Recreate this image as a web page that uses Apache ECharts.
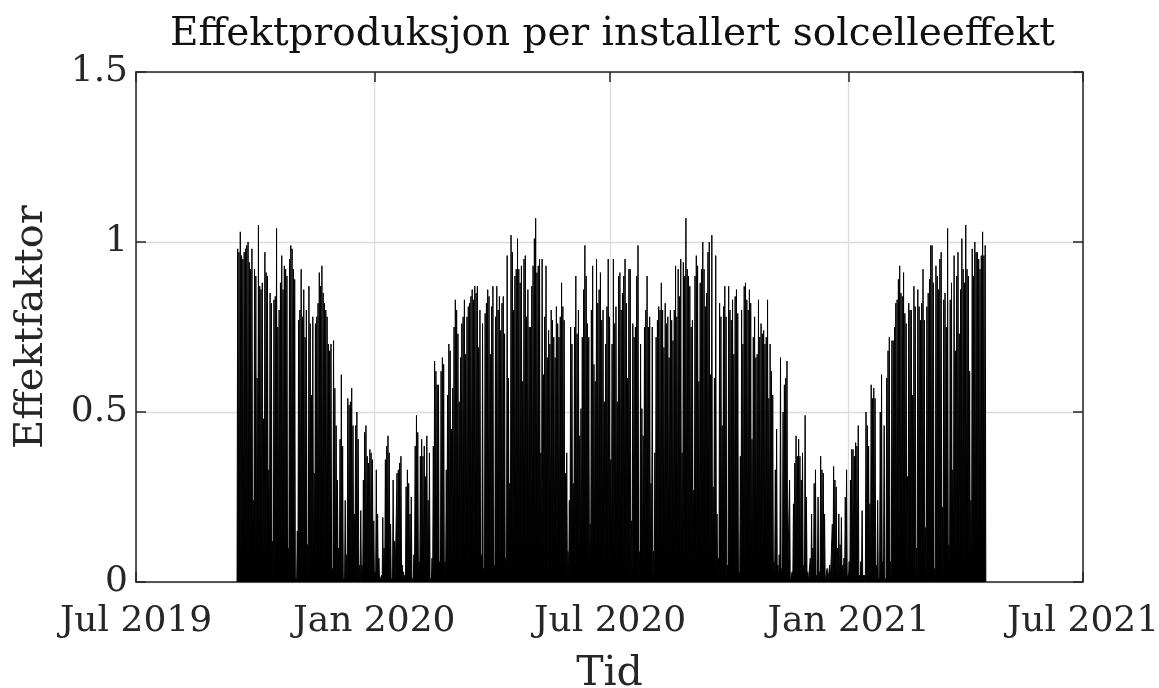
<!DOCTYPE html>
<html>
<head>
<meta charset="utf-8">
<script src="https://cdn.jsdelivr.net/npm/echarts@6/dist/echarts.min.js"></script>
<style>
  html, body { margin: 0; padding: 0; background: #ffffff; overflow: hidden; }
  #chart { width: 1159px; height: 688px; }
</style>
</head>
<body>
<div id="chart"></div>
<script>
// First day of the measured period (local calendar date: year, month index, day)
const firstDay = [2019, 8, 17];

// Daily peak of produced power divided by installed solar capacity
const peaksAutumn2019 = [
  0.98, 0.97, 1.03, 0.96, 0.95, 0.97, 0.98, 0.99, 1.00, 0.94,
  0.92, 0.98, 0.24, 0.92, 0.90, 0.60, 1.05, 0.87, 0.86, 0.88,
  0.48, 0.97, 0.91, 0.90, 0.33, 0.85, 0.82, 0.12, 0.83, 0.84,
  1.04, 0.75, 0.80, 0.88, 0.96, 0.86, 0.93, 0.92, 0.90, 0.10,
  0.95, 0.99, 0.98, 0.92, 0.89, 0.01, 0.15, 0.77, 0.80, 0.92,
  0.78, 0.86, 0.72, 0.80, 0.11, 0.87, 0.76, 0.55, 0.78, 0.32,
  0.76, 0.78, 0.82, 0.91, 0.87, 0.93, 0.85, 0.82, 0.80, 0.78,
  0.70, 0.68, 0.70, 0.04, 0.71, 0.57, 0.46, 0.30, 0.10, 0.42,
  0.61, 0.40, 0.01, 0.24, 0.08, 0.54, 0.52, 0.53, 0.57, 0.46,
  0.20, 0.46, 0.50, 0.42, 0.05, 0.21, 0.05, 0.30, 0.44, 0.46,
  0.37, 0.35, 0.39, 0.38, 0.36, 0.18, 0.03, 0.33, 0.20, 0.07,
  0.00, 0.02, 0.19, 0.10
];

const peaksSpring2020 = [
  0.36, 0.40, 0.43, 0.38, 0.17, 0.01, 0.30, 0.12, 0.00, 0.32,
  0.33, 0.35, 0.37, 0.05, 0.03, 0.02, 0.28, 0.33, 0.29, 0.20,
  0.25, 0.01, 0.08, 0.40, 0.49, 0.44, 0.06, 0.37, 0.42, 0.37,
  0.40, 0.31, 0.43, 0.24, 0.38, 0.01, 0.07, 0.40, 0.65, 0.62,
  0.58, 0.58, 0.06, 0.62, 0.66, 0.64, 0.06, 0.33, 0.55, 0.70,
  0.68, 0.45, 0.57, 0.75, 0.83, 0.80, 0.73, 0.53, 0.66, 0.76,
  0.78, 0.83, 0.67, 0.78, 0.81, 0.82, 0.84, 0.86, 0.83, 0.87,
  0.85, 0.87, 0.69, 0.80, 0.08, 0.76, 0.04, 0.79, 0.82, 0.86,
  0.84, 0.67, 0.81, 0.87, 0.05, 0.78, 0.87, 0.80, 0.84, 0.74,
  0.82, 0.84, 0.73, 0.07, 0.96, 0.60, 0.29, 1.02, 0.97, 0.80,
  0.90, 0.92, 1.01, 0.92, 0.88, 0.93, 0.59, 0.95, 0.96, 0.78,
  0.86, 0.75, 0.75, 0.87, 0.93, 1.01
];

const peaksSummer2020 = [
  1.07, 0.91, 0.93, 0.95, 0.38, 0.95, 0.61, 0.78, 0.93, 0.66,
  0.74, 0.70, 0.80, 0.77, 0.72, 0.66, 0.81, 0.76, 0.72, 0.78,
  0.88, 0.81, 0.77, 0.32, 0.38, 0.09, 0.24, 0.75, 0.70, 0.29,
  0.75, 0.90, 0.73, 0.80, 0.43, 0.51, 0.72, 0.86, 0.99, 0.90,
  0.76, 0.72, 0.17, 0.80, 0.93, 0.64, 0.59, 0.95, 0.82, 0.86,
  0.91, 0.77, 0.80, 0.53, 0.70, 0.81, 0.95, 0.78, 0.36, 0.70,
  0.95, 0.76, 0.81, 0.53, 0.90, 0.91, 0.80, 0.85, 0.90, 0.95,
  0.82, 0.60, 0.92, 0.92, 0.18, 0.76, 0.72, 0.75, 0.90, 0.99,
  0.09, 0.70, 0.51, 0.43, 0.75, 0.80, 0.90, 0.75, 0.78, 0.29,
  0.75, 0.09, 0.38, 0.72, 0.77, 0.81, 0.80, 0.88, 0.80, 0.69,
  0.82, 0.76, 0.78, 0.66, 0.80, 0.77, 0.71, 0.80, 0.93, 0.78,
  0.92, 0.84, 0.95, 0.38, 0.94, 0.90
];

const peaksAutumn2020 = [
  1.07, 0.92, 0.90, 0.87, 0.75, 0.77, 0.27, 0.90, 0.96, 0.93,
  0.59, 0.88, 0.92, 1.00, 0.92, 0.81, 0.85, 0.97, 1.00, 0.61,
  1.02, 0.28, 0.60, 0.96, 0.20, 0.07, 0.82, 0.78, 0.46, 0.81,
  0.87, 0.78, 0.05, 0.87, 0.80, 0.77, 0.83, 0.67, 0.84, 0.86,
  0.79, 0.03, 0.37, 0.80, 0.70, 0.87, 0.88, 0.83, 0.80, 0.86,
  0.82, 0.42, 0.72, 0.78, 0.66, 0.67, 0.83, 0.72, 0.76, 0.73,
  0.74, 0.70, 0.72, 0.83, 0.54, 0.70, 0.62, 0.55, 0.06, 0.33,
  0.45, 0.05, 0.08, 0.66, 0.04, 0.50, 0.58, 0.60, 0.65, 0.00,
  0.30, 0.00, 0.03, 0.23, 0.35, 0.43, 0.37, 0.42, 0.37, 0.30,
  0.38, 0.05, 0.49, 0.25, 0.03, 0.00, 0.07, 0.20, 0.10, 0.29,
  0.33, 0.02, 0.25, 0.03, 0.37, 0.33, 0.32, 0.20, 0.00, 0.04,
  0.00, 0.05, 0.00, 0.17, 0.34, 0.30
];

const peaksSpring2021 = [
  0.28, 0.10, 0.20, 0.11, 0.19, 0.05, 0.07, 0.25, 0.33, 0.02,
  0.06, 0.30, 0.39, 0.39, 0.37, 0.41, 0.40, 0.46, 0.02, 0.06,
  0.21, 0.02, 0.02, 0.50, 0.46, 0.40, 0.23, 0.58, 0.54, 0.57,
  0.54, 0.05, 0.24, 0.01, 0.50, 0.61, 0.06, 0.46, 0.01, 0.60,
  0.68, 0.72, 0.06, 0.71, 0.71, 0.75, 0.82, 0.83, 0.89, 0.93,
  0.85, 0.84, 0.91, 0.79, 0.76, 0.31, 0.82, 0.80, 0.80, 0.55,
  0.87, 0.81, 0.10, 0.86, 0.81, 0.77, 0.82, 0.92, 0.77, 0.16,
  0.81, 0.85, 0.89, 0.99, 0.99, 0.88, 0.04, 0.93, 0.90, 0.86,
  0.95, 0.97, 0.22, 0.83, 0.85, 0.75, 1.04, 0.11, 0.83, 0.88,
  0.33, 0.96, 0.68, 0.90, 0.97, 0.73, 0.86, 1.01, 0.92, 0.88,
  1.05, 0.92, 0.90, 0.62, 0.24, 0.98, 0.90, 1.00, 0.97, 0.97,
  0.95, 0.92, 0.96, 1.03, 0.96, 0.99
];

// Axis ticks
const xTickDates = [[2019, 6, 1], [2020, 0, 1], [2020, 6, 1], [2021, 0, 1], [2021, 6, 1]];
const xTickLabels = ['Jul 2019', 'Jan 2020', 'Jul 2020', 'Jan 2021', 'Jul 2021'];
const yTicks = [0, 0.5, 1, 1.5];

const dailyPeaks = [].concat(peaksAutumn2019, peaksSpring2020, peaksSummer2020,
                             peaksAutumn2020, peaksSpring2021);

// Each day: zero output at midnight, the day's peak at noon
const series = [];
dailyPeaks.forEach((p, i) => {
  series.push([new Date(firstDay[0], firstDay[1], firstDay[2] + i, 0).getTime(), 0]);
  series.push([new Date(firstDay[0], firstDay[1], firstDay[2] + i, 12).getTime(), p]);
});
series.push([new Date(firstDay[0], firstDay[1], firstDay[2] + dailyPeaks.length, 0).getTime(), 0]);

const tickTimes = xTickDates.map(d => new Date(d[0], d[1], d[2]).getTime());
const labelOf = t => {
  const k = tickTimes.findIndex(v => Math.abs(v - t) < 1000);
  return k >= 0 ? xTickLabels[k] : '';
};

const ink = '#262626';
const font = 'DejaVu Serif';

const chart = echarts.init(document.getElementById('chart'), null, { renderer: 'canvas' });
chart.setOption({
  animation: false,
  backgroundColor: '#ffffff',
  title: {
    text: 'Effektproduksjon per installert solcelleeffekt',
    left: 165,
    top: 10,
    textStyle: { fontFamily: font, fontSize: 39, fontWeight: 'normal', color: '#111111' }
  },
  grid: { left: 136, right: 76, top: 72, bottom: 106, containLabel: false,
          outerBoundsMode: 'none' },
  xAxis: [
    {
      type: 'value',
      min: tickTimes[0],
      max: tickTimes[tickTimes.length - 1],
      position: 'bottom',
      name: 'Tid',
      nameLocation: 'middle',
      nameGap: 72,
      nameTextStyle: { fontFamily: font, fontSize: 41, color: ink },
      axisLine: { show: true, onZero: false, lineStyle: { color: ink, width: 1.5 } },
      axisTick: { show: true, inside: true, length: 10, customValues: tickTimes,
                  lineStyle: { color: ink, width: 1.5 } },
      axisLabel: { show: true, customValues: tickTimes, formatter: labelOf, margin: 22,
                   fontFamily: font, fontSize: 36, color: ink, hideOverlap: false,
                   showMinLabel: true, showMaxLabel: true },
      splitLine: { show: true, lineStyle: { color: '#dcdcdc', width: 1.3 } }
    },
    {
      type: 'value',
      min: tickTimes[0],
      max: tickTimes[tickTimes.length - 1],
      position: 'top',
      axisLine: { show: true, onZero: false, lineStyle: { color: ink, width: 1.5 } },
      axisTick: { show: true, inside: true, length: 10, customValues: tickTimes,
                  lineStyle: { color: ink, width: 1.5 } },
      axisLabel: { show: false },
      splitLine: { show: false }
    }
  ],
  yAxis: [
    {
      type: 'value',
      min: 0,
      max: 1.5,
      interval: 0.5,
      position: 'left',
      name: 'Effektfaktor',
      nameLocation: 'middle',
      nameGap: 84,
      nameRotate: 90,
      nameTextStyle: { fontFamily: font, fontSize: 40, color: ink },
      axisLine: { show: true, onZero: false, lineStyle: { color: ink, width: 1.5 } },
      axisTick: { show: true, inside: true, length: 10, lineStyle: { color: ink, width: 1.5 } },
      axisLabel: { show: true, margin: 8, fontFamily: font, fontSize: 36, color: ink,
                   formatter: v => yTicks.includes(v) ? String(v) : '' },
      splitLine: { show: true, lineStyle: { color: '#dcdcdc', width: 1.3 } }
    },
    {
      type: 'value',
      min: 0,
      max: 1.5,
      interval: 0.5,
      position: 'right',
      axisLine: { show: true, onZero: false, lineStyle: { color: ink, width: 1.5 } },
      axisTick: { show: true, inside: true, length: 10, lineStyle: { color: ink, width: 1.5 } },
      axisLabel: { show: false },
      splitLine: { show: false }
    }
  ],
  series: [
    {
      type: 'line',
      xAxisIndex: 0,
      yAxisIndex: 0,
      data: series,
      showSymbol: false,
      symbol: 'none',
      sampling: null,
      lineStyle: { color: '#000000', width: 1 },
      areaStyle: { color: '#000000', opacity: 1 },
      z: 2
    }
  ]
});
</script>
</body>
</html>
